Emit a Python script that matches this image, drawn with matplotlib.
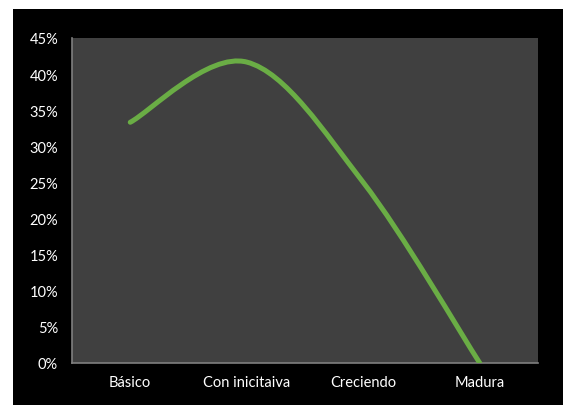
import matplotlib
matplotlib.use("Agg")
import matplotlib.pyplot as plt
from matplotlib.path import Path
from matplotlib.patches import PathPatch, Rectangle
import numpy as np

# datos del grafico
categorias = ["Básico", "Con inicitaiva", "Creciendo", "Madura"]
porcentajes = [4 / 12, 5 / 12, 3 / 12, 0.0]
ticks_y = [0, 0.05, 0.10, 0.15, 0.20, 0.25, 0.30, 0.35, 0.40, 0.45]

plt.rcParams['font.family'] = ['Lato', 'DejaVu Sans']

fig = plt.figure(figsize=(5.63, 4.06), dpi=100, facecolor='white')
# fondo negro del area del grafico (con margen blanco arriba/izquierda)
fig.patches.append(Rectangle((13 / 563, 0), 1 - 13 / 563, 1 - 10 / 406,
                             transform=fig.transFigure, facecolor='black',
                             edgecolor='none', zorder=-5))

ax = fig.add_axes([72 / 563, 1 - 364 / 406, (538 - 72) / 563, (364 - 39) / 406])
ax.set_zorder(2)
ax.set_facecolor('#404040')

# linea suavizada tipo Excel (bezier con puntos de control Catmull-Rom)
x = np.arange(len(categorias), dtype=float)
y = np.array(porcentajes)
pts = np.column_stack([x, y])
verts = [pts[0]]
codes = [Path.MOVETO]
n = len(pts)
for i in range(n - 1):
    p0 = pts[max(i - 1, 0)]
    p1 = pts[i]
    p2 = pts[i + 1]
    p3 = pts[min(i + 2, n - 1)]
    c1 = p1 + (p2 - p0) / 6
    c2 = p2 - (p3 - p1) / 6
    verts += [c1, c2, p2]
    codes += [Path.CURVE4] * 3
linea = PathPatch(Path(verts, codes), facecolor='none', edgecolor='#6AAD45',
                  linewidth=3.6, capstyle='round', joinstyle='round', zorder=3)
ax.add_patch(linea)

ax.set_xlim(-0.5, len(categorias) - 0.5)
ax.set_ylim(0, 0.45)
ax.set_xticks(x)
ax.set_xticklabels(categorias)
ax.set_yticks(ticks_y)
ax.set_yticklabels([f"{int(round(t * 100))}%" for t in ticks_y])
ax.tick_params(axis='both', length=0, colors='white', labelsize=10.5)
ax.tick_params(axis='y', pad=10)
ax.tick_params(axis='x', pad=9)

for s in ['top', 'right']:
    ax.spines[s].set_visible(False)
for s in ['left', 'bottom']:
    ax.spines[s].set_color('#7f7f7f')
    ax.spines[s].set_linewidth(1.2)

fig.savefig('out.png', dpi=100, facecolor=fig.get_facecolor())
